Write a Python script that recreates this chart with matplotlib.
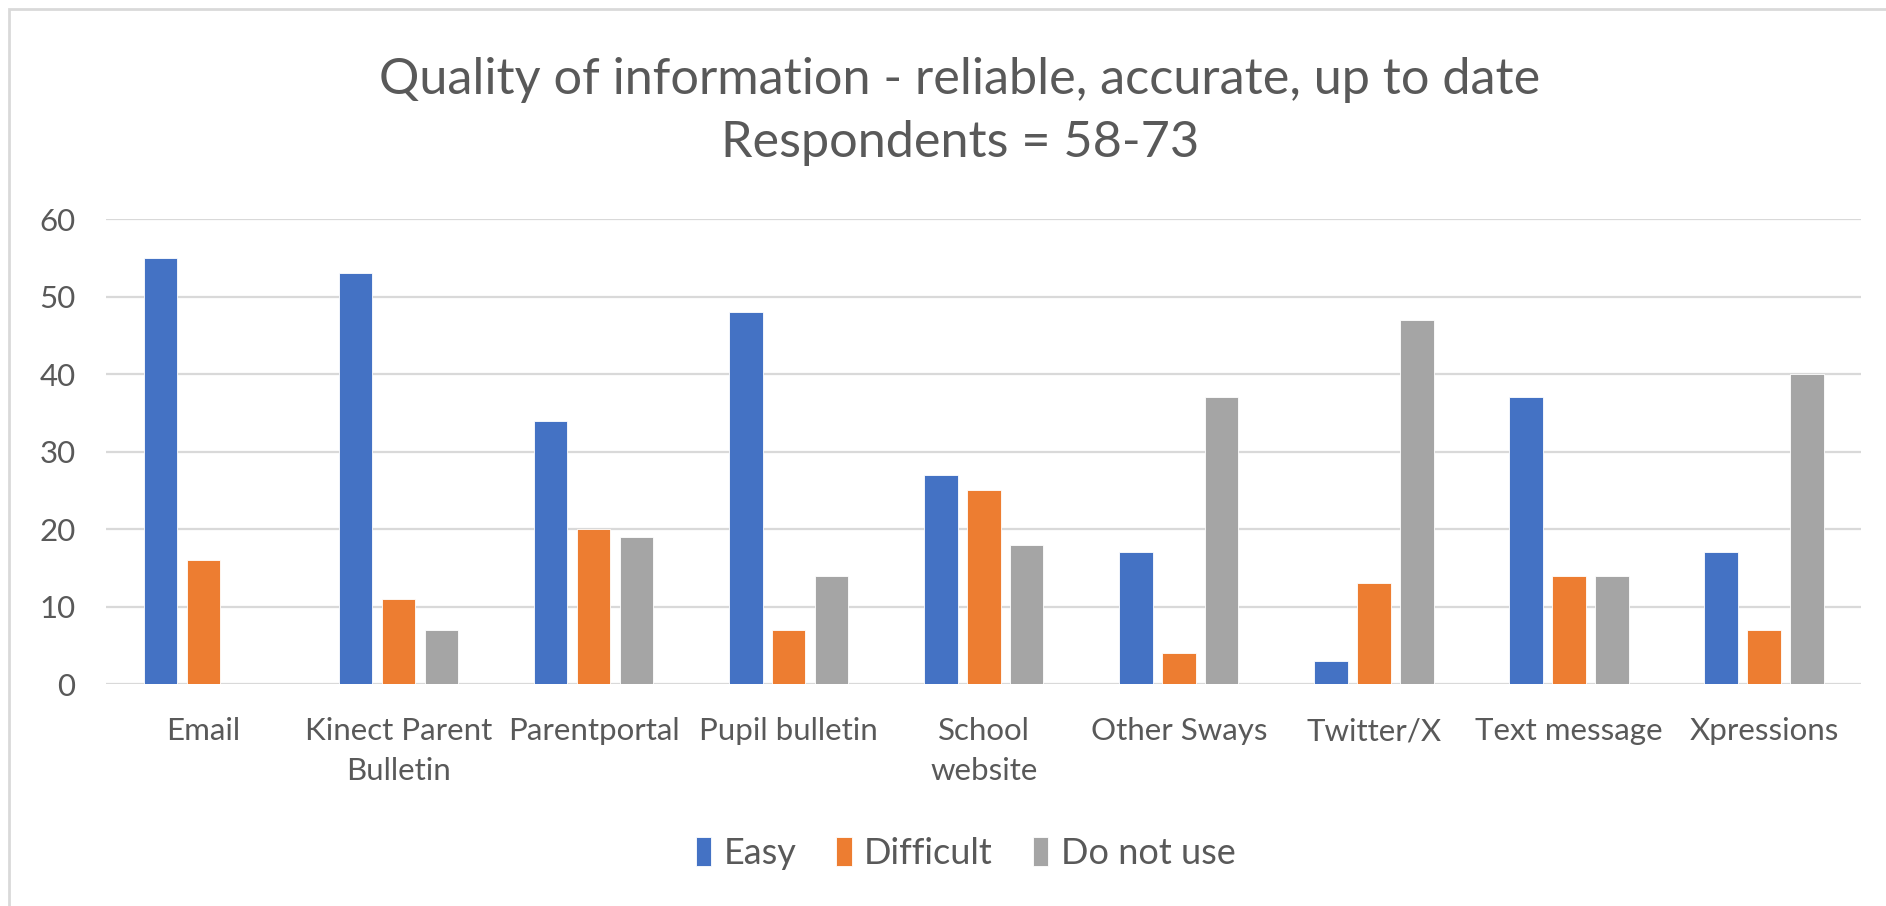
import numpy as np
import matplotlib.pyplot as plt
from matplotlib.patches import Rectangle

categories = ['Email', 'Kinect Parent\nBulletin', 'Parentportal', 'Pupil bulletin',
              'School\nwebsite', 'Other Sways', 'Twitter/X', 'Text message', 'Xpressions']
easy = [55, 53, 34, 48, 27, 17, 3, 37, 17]
difficult = [16, 11, 20, 7, 25, 4, 13, 14, 7]
not_used = [0, 7, 19, 14, 18, 37, 47, 14, 40]

series = ['Easy', 'Difficult', 'Do not use']
colors = ['#4472c4', '#ed7d31', '#a5a5a5']

plt.rcParams['font.family'] = ['Lato', 'DejaVu Sans']
txt = '#595959'

fig = plt.figure(figsize=(18.86, 9.06), dpi=100, facecolor='white')
ax = fig.add_axes([0.0562, 0.245, 0.9308, 0.513])

x = np.arange(len(categories))
step = 0.22
width = 0.172
for i, (vals, name, c) in enumerate(zip([easy, difficult, not_used], series, colors)):
    ax.bar(x + (i - 1) * step, vals, width, color=c, label=name,
           edgecolor='white', linewidth=0.6, zorder=3)

ax.set_xlim(-0.5, len(categories) - 0.5)
ax.set_ylim(0, 60)
ax.set_yticks(range(0, 61, 10))
ax.grid(axis='y', color='#d9d9d9', linewidth=1.6, zorder=0)
for s in ax.spines.values():
    s.set_visible(False)
ax.tick_params(length=0, labelsize=22.5, colors=txt)
ax.tick_params(axis='y', pad=22)
ax.tick_params(axis='x', pad=24)
ax.set_xticks(x)
ax.set_xticklabels(categories, linespacing=1.5, va='top')

fig.text(0.509, 0.912, 'Quality of information - reliable, accurate, up to date',
         ha='center', va='center', fontsize=36.3, color=txt)
fig.text(0.509, 0.842, 'Respondents = 58-73', ha='center', va='center',
         fontsize=36.3, color=txt)

ax.legend(loc='center', bbox_to_anchor=(0.512, 0.058), bbox_transform=fig.transFigure,
          ncol=3, frameon=False, fontsize=26, labelcolor=txt,
          handlelength=0.42, handleheight=0.85, handletextpad=0.35, columnspacing=1.1)

# light frame around the chart area
fig.add_artist(Rectangle((0.005, -0.05), 1.05, 1.04, transform=fig.transFigure,
                         fill=False, edgecolor='#d9d9d9', linewidth=2))

plt.savefig('out.png', dpi=100, facecolor='white')
